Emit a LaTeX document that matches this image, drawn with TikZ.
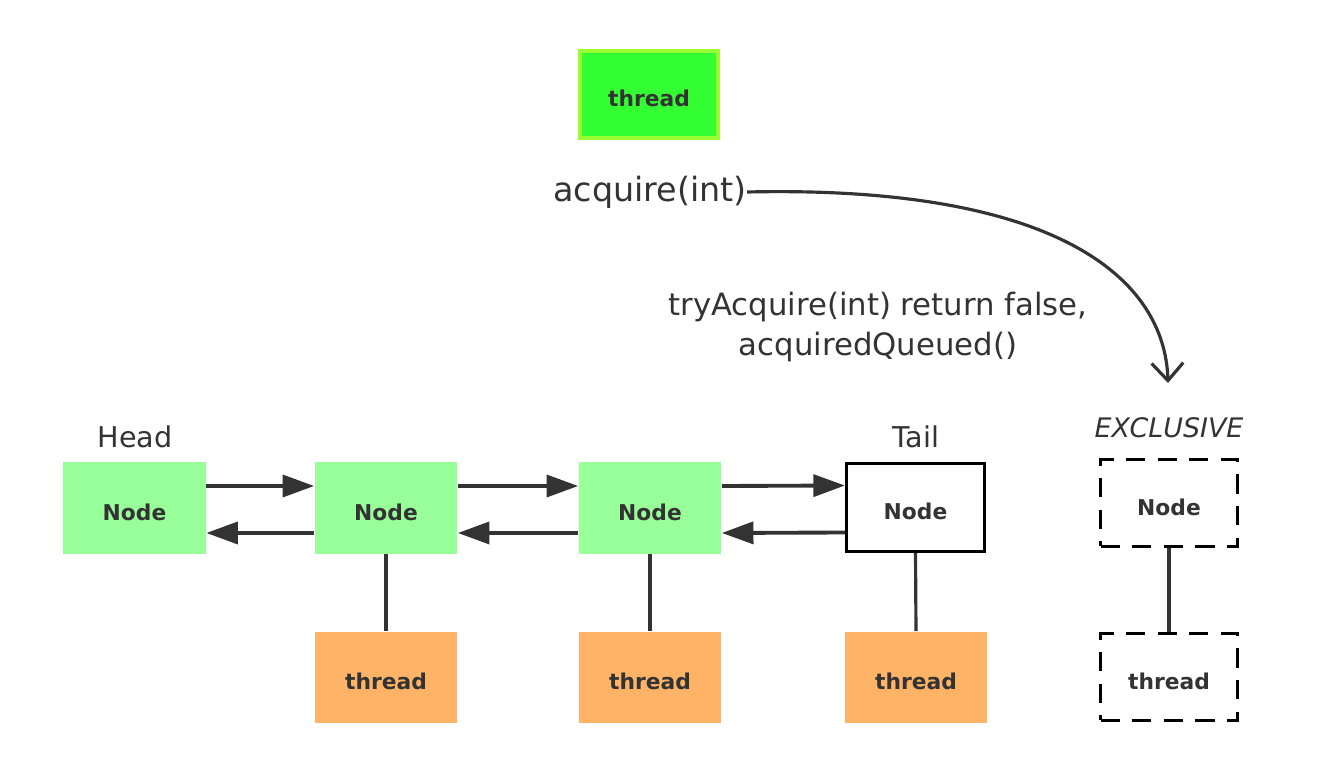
\documentclass[tikz,border=0pt]{standalone}
\usepackage{fontspec}
\setmainfont{DejaVu Sans}
\usetikzlibrary{arrows.meta}

\definecolor{ink}{HTML}{333333}
\definecolor{nodegreen}{HTML}{99FF99}
\definecolor{threadorange}{HTML}{FFB366}
\definecolor{curgreen}{HTML}{33FF33}
\definecolor{curlime}{HTML}{99FF33}

\begin{document}
\begin{tikzpicture}[x=0.02cm, y=-0.02cm,
    box/.style={minimum width=2.86cm, minimum height=1.84cm, inner sep=0pt,
      text height=13.8pt, text depth=0pt,
      font=\fontsize{12.4}{14}\selectfont\bfseries, text=ink},
    qnode/.style={box, fill=nodegreen},
    qthread/.style={box, fill=threadorange},
    exbox/.style={box, draw=black, line width=2pt, dash pattern=on 11pt off 7pt,
      minimum width=2.74cm, minimum height=1.74cm},
    lbl/.style={text=ink, font=\fontsize{16.3}{19}\selectfont},
    link/.style={draw=ink, line width=2.2pt, -{Triangle[length=18pt,width=12.5pt]}},
    tie/.style={draw=ink, line width=1.8pt}]
  \useasboundingbox (0,0) rectangle (1343,773);

  % current thread
  \node (cur) [box, fill=curgreen, draw=curlime, line width=2.3pt,
    minimum width=2.76cm, minimum height=1.74cm] at (649,94.5) {thread};
  \node (acq) [text=ink, font=\fontsize{19}{22}\selectfont, inner sep=0pt] at (650,192) {acquire(int)};
  \node (try) [text=ink, font=\fontsize{17.5}{23}\selectfont, align=center] at (878,327)
    {tryAcquire(int) return false,\\acquiredQueued()};
  \coordinate (land) at (1168,383);

  % queue
  \node (head) [qnode] at (134.5,508) {Node};
  \node (n2) [qnode] at (386,508) {Node};
  \node (n3) [qnode] at (650,508) {Node};
  \node (tail) [box, draw=black, line width=1.8pt, minimum width=2.76cm, minimum height=1.76cm]
    at (915.5,507.5) {Node};
  \node (t2) [qthread] at (386,677.5) {thread};
  \node (t3) [qthread] at (650,677.5) {thread};
  \node (t4) [qthread] at (916,677.5) {thread};
  \node (headlbl) [lbl] at (135,437) {Head};
  \node (taillbl) [lbl] at (916,437) {Tail};

  % new waiter
  \node (exnode) [exbox] at (1169,503) {Node};
  \node (exthread) [exbox] at (1169,677) {thread};
  \node (exlbl) [text=ink, font=\fontsize{15.3}{18}\selectfont\itshape] at (1169,428) {EXCLUSIVE};

  \foreach \a/\b in {head/n2, n2/n3, n3/tail} {
    \draw[link] ([yshift=0.44cm]\a.east) -- ([yshift=0.44cm]\b.west);
    \draw[link] ([yshift=-0.5cm]\b.west) -- ([yshift=-0.5cm]\a.east);
  }
  \foreach \a/\b in {n2/t2, n3/t3, tail/t4, exnode/exthread}
    \draw[tie] (\a.south) -- (\b.north);

  \draw[draw=ink, line width=1.8pt, -{Straight Barb[length=10pt,width=18pt,line width=1.8pt]}]
    (acq.east) .. controls (1060,185) and (1165,280) .. (land);
\end{tikzpicture}
\end{document}
